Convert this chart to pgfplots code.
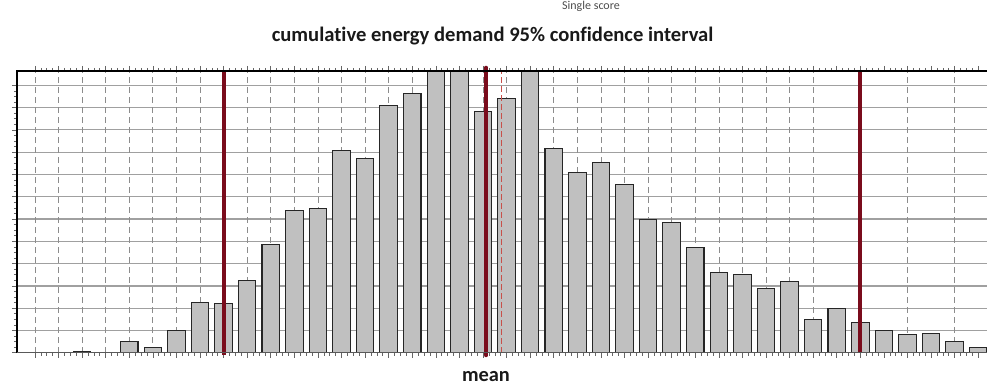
\documentclass[border=0pt]{standalone}
\usepackage{pgfplots}
\pgfplotsset{compat=1.18}
\usepackage{fontspec}
\setmainfont{Carlito}[Ligatures={NoCommon}]
\definecolor{barfill}{HTML}{C0C0C0}
\definecolor{darkred}{HTML}{7A0C1C}
\definecolor{lightred}{HTML}{C8504A}
\definecolor{gridgray}{HTML}{A0A0A0}
\begin{document}
\begin{tikzpicture}[x=1pt,y=1pt]
\useasboundingbox (0,0) rectangle (493.5,193);
\node[font=\bfseries\fontsize{10.3pt}{11pt}\selectfont, text=black!90] at (246.3,174.75) {cumulative energy demand 95\% confidence interval};
\node[font=\bfseries\fontsize{10.2pt}{11pt}\selectfont, text=black!90] at (243,4.8) {mean};
\node[font=\fontsize{6pt}{7pt}\selectfont, text=black!70] at (295.5,189.6) {Single score};
\begin{axis}[
  at={(8.5pt,16.6pt)}, anchor=south west,
  scale only axis, width=485pt, height=140.9pt,
  xmin=-0.76, xmax=40.37, ymin=0, ymax=12.64,
  axis line style={draw=none},
  clip=false,
  ybar, bar width=8.75pt,
  xtick={0,...,40}, xticklabels={},
  extra x ticks={0,...,33,35,37,39}, extra x tick labels={},
  extra x tick style={xmajorgrids=true, major tick length=0pt},
  x grid style={densely dashed, gray!90, line width=0.35pt},
  ytick={0,...,12}, yticklabels={},
  ymajorgrids,
  y grid style={gridgray, line width=0.6pt},
  minor x tick num=3, minor y tick num=3,
  tick align=outside,
  major tick length=2.5pt, minor tick length=1.5pt,
  tick style={black!60, line width=0.3pt},
]
\addplot[fill=barfill, draw=black!85, line width=0.55pt] coordinates {
(2,0.06) (4,0.52) (5,0.25) (6,1.02) (7,2.25) (8,2.20) (9,3.25) (10,4.87)
(11,6.37) (12,6.46) (13,9.08) (14,8.72) (15,11.11) (16,11.64) (17,12.64)
(18,12.64) (19,10.81) (20,11.41) (21,12.64) (22,9.17) (23,8.08) (24,8.54)
(25,7.56) (26,5.96) (27,5.85) (28,4.73) (29,3.59) (30,3.52) (31,2.89)
(32,3.21) (33,1.50) (34,2.00) (35,1.34) (36,1.02) (37,0.81) (38,0.86)
(39,0.52) (40,0.25)
};
\addplot[sharp plot, draw=lightred, line width=0.6pt, dash pattern=on 3pt off 1.5pt] coordinates {(19.8,0) (19.8,12.64)};
\addplot[sharp plot, draw=darkred, line width=2pt] coordinates {(8.02,-0.1) (8.02,12.64)};
\addplot[sharp plot, draw=darkred, line width=2pt] coordinates {(34.99,0) (34.99,12.64)};
\addplot[sharp plot, draw=darkred, line width=2.2pt, line cap=round] coordinates {(19.13,-0.1) (19.13,12.78)};
\draw[black, line width=0.6pt] (rel axis cs:0,0) -- (rel axis cs:0,1) -- (rel axis cs:1,1);
\draw[black!65, line width=0.5pt] (rel axis cs:0,0) -- (rel axis cs:1,0);
\end{axis}
\end{tikzpicture}
\end{document}
